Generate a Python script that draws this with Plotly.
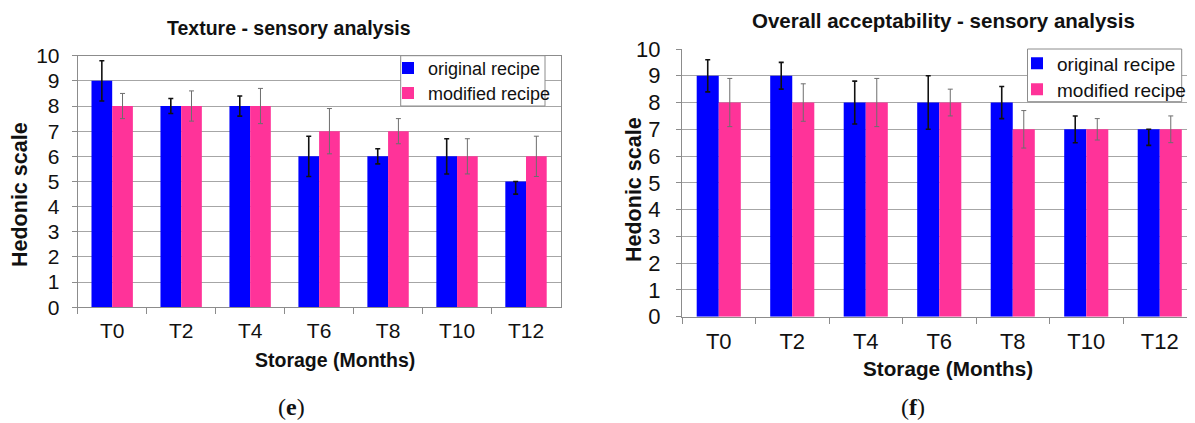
import plotly.graph_objects as go

categories = ["T0", "T2", "T4", "T6", "T8", "T10", "T12"]

# (e) Texture - sensory analysis
tex_orig = [9, 8, 8, 6, 6, 6, 5]
tex_orig_err_plus = [0.8, 0.3, 0.4, 0.8, 0.3, 0.7, 0.0]
tex_orig_err_minus = [0.8, 0.3, 0.4, 0.8, 0.3, 0.7, 0.5]
tex_mod = [8, 8, 8, 7, 7, 6, 6]
tex_mod_err = [0.5, 0.6, 0.7, 0.9, 0.5, 0.7, 0.8]

# (f) Overall acceptability - sensory analysis
acc_orig = [9, 9, 8, 8, 8, 7, 7]
acc_orig_err_plus = [0.6, 0.5, 0.8, 1.0, 0.6, 0.5, 0.0]
acc_orig_err_minus = [0.6, 0.5, 0.8, 1.0, 0.6, 0.5, 0.6]
acc_mod = [8, 8, 8, 8, 7, 7, 7]
acc_mod_err = [0.9, 0.7, 0.9, 0.5, 0.7, 0.4, 0.5]

# The page body has an 8px margin: the figure is drawn at (8, 8) in the window.
OFF = 8
WIN_W, WIN_H = 1195, 423
W, H = WIN_W - OFF, WIN_H - OFF
BLUE = "#0000FF"
PINK = "#FF3399"
GRID = "#A6A6A6"
AX = "#8C8C8C"
FONT = "Liberation Sans, Arial, sans-serif"
SERIF = "Liberation Serif, Times New Roman, serif"


def px_x(p):
    return (p - OFF) / W


def px_y(p):
    return 1 - (p - OFF) / H


fig = go.Figure()

fig.add_trace(go.Bar(
    x=categories, y=tex_orig, name="original recipe", marker_color=BLUE,
    marker_line_width=0, xaxis="x", yaxis="y", legend="legend",
    error_y=dict(type="data", symmetric=False, array=tex_orig_err_plus,
                 arrayminus=tex_orig_err_minus, color="#111111",
                 thickness=1.6, width=2.5)))
fig.add_trace(go.Bar(
    x=categories, y=tex_mod, name="modified recipe", marker_color=PINK,
    marker_line_width=0, xaxis="x", yaxis="y", legend="legend3",
    error_y=dict(type="data", array=tex_mod_err, color="#6E6E6E",
                 thickness=1, width=2.5)))
fig.add_trace(go.Bar(
    x=categories, y=acc_orig, name="original recipe", marker_color=BLUE,
    marker_line_width=0, xaxis="x2", yaxis="y2", legend="legend2",
    error_y=dict(type="data", symmetric=False, array=acc_orig_err_plus,
                 arrayminus=acc_orig_err_minus, color="#111111",
                 thickness=1.6, width=2.5)))
fig.add_trace(go.Bar(
    x=categories, y=acc_mod, name="modified recipe", marker_color=PINK,
    marker_line_width=0, xaxis="x2", yaxis="y2", legend="legend4",
    error_y=dict(type="data", array=acc_mod_err, color="#6E6E6E",
                 thickness=1, width=2.5)))


def xax(size, standoff):
    return dict(type="category", showgrid=False, showline=True, linecolor=AX,
                linewidth=1, ticks="outside", tickson="boundaries", ticklen=6,
                tickcolor=AX, ticklabelstandoff=standoff,
                tickfont=dict(family=FONT, size=size, color="#111"),
                automargin=False, fixedrange=True)


def yax(size, standoff):
    return dict(range=[0, 10], dtick=1, showgrid=True, gridcolor=GRID,
                gridwidth=1.3, showline=True, linecolor=AX, linewidth=1,
                ticks="outside", ticklen=5, tickcolor=AX,
                ticklabelstandoff=standoff,
                tickfont=dict(family=FONT, size=size, color="#111"),
                zeroline=False, automargin=False, fixedrange=True)


def leg(sym_cx, cy, size):
    # symbol centre sits 20px right of the legend's left edge
    return dict(x=px_x(sym_cx - 20), y=px_y(cy), xanchor="left",
                yanchor="middle", bgcolor="rgba(0,0,0,0)", borderwidth=0,
                font=dict(family=FONT, size=size, color="#111"),
                itemwidth=30)


fig.update_layout(
    width=W, height=H,
    margin=dict(l=0, r=0, t=0, b=0, autoexpand=False),
    paper_bgcolor="white", plot_bgcolor="white",
    barmode="group", bargap=0.4, bargroupgap=0,
    showlegend=True,
    xaxis=dict(xax(21, 4), domain=[px_x(77.7), px_x(560.5)], anchor="y",
               range=[-0.5, 6.5], mirror=True),
    yaxis=dict(yax(21, 8), domain=[px_y(307.3), px_y(55.7)], anchor="x",
               mirror=True),
    xaxis2=dict(xax(22, 5), domain=[px_x(682), 1.0], anchor="y2",
                range=[-0.5, -0.5 + (WIN_W - 682) / 73.5]),
    yaxis2=dict(yax(22, 11), domain=[px_y(316.7), px_y(49)], anchor="x2"),
    legend=leg(408, 68.3, 18),
    legend3=leg(408, 93.3, 18),
    legend2=leg(1037, 63.3, 19),
    legend4=leg(1037, 89.3, 19),
    shapes=[
        dict(type="rect", xref="paper", yref="paper", layer="above",
             x0=px_x(400.7), x1=px_x(545), y0=px_y(106), y1=px_y(55.7),
             fillcolor="white", line=dict(color=AX, width=1)),
        dict(type="rect", xref="paper", yref="paper", layer="above",
             x0=px_x(1027.5), x1=px_x(1181.7), y0=px_y(101.7), y1=px_y(49),
             fillcolor="white", line=dict(color=AX, width=1)),
    ],
)

ann = []


def add_text(text, cx, cy, size, bold=True, angle=0, family=FONT):
    ann.append(dict(text=f"<b>{text}</b>" if bold else text,
                    x=px_x(cx), y=px_y(cy), xref="paper", yref="paper",
                    xanchor="center", yanchor="middle", showarrow=False,
                    textangle=angle, borderpad=0,
                    font=dict(family=family, size=size, color="#111")))


add_text("Texture - sensory analysis", 289, 28, 19.5)
add_text("Overall acceptability - sensory analysis", 943, 21, 20.5)
add_text("Storage (Months)", 335, 360, 19.5)
add_text("Storage (Months)", 948, 368, 20.7)
add_text("Hedonic scale", 20, 195, 21.5, angle=-90)
add_text("Hedonic scale", 634, 190, 21.5, angle=-90)
add_text("(<b>e</b>)", 291, 407, 24, bold=False, family=SERIF)
add_text("(<b>f</b>)", 912.6, 407, 24, bold=False, family=SERIF)

fig.update_layout(annotations=ann)

fig.write_html("out.html")
